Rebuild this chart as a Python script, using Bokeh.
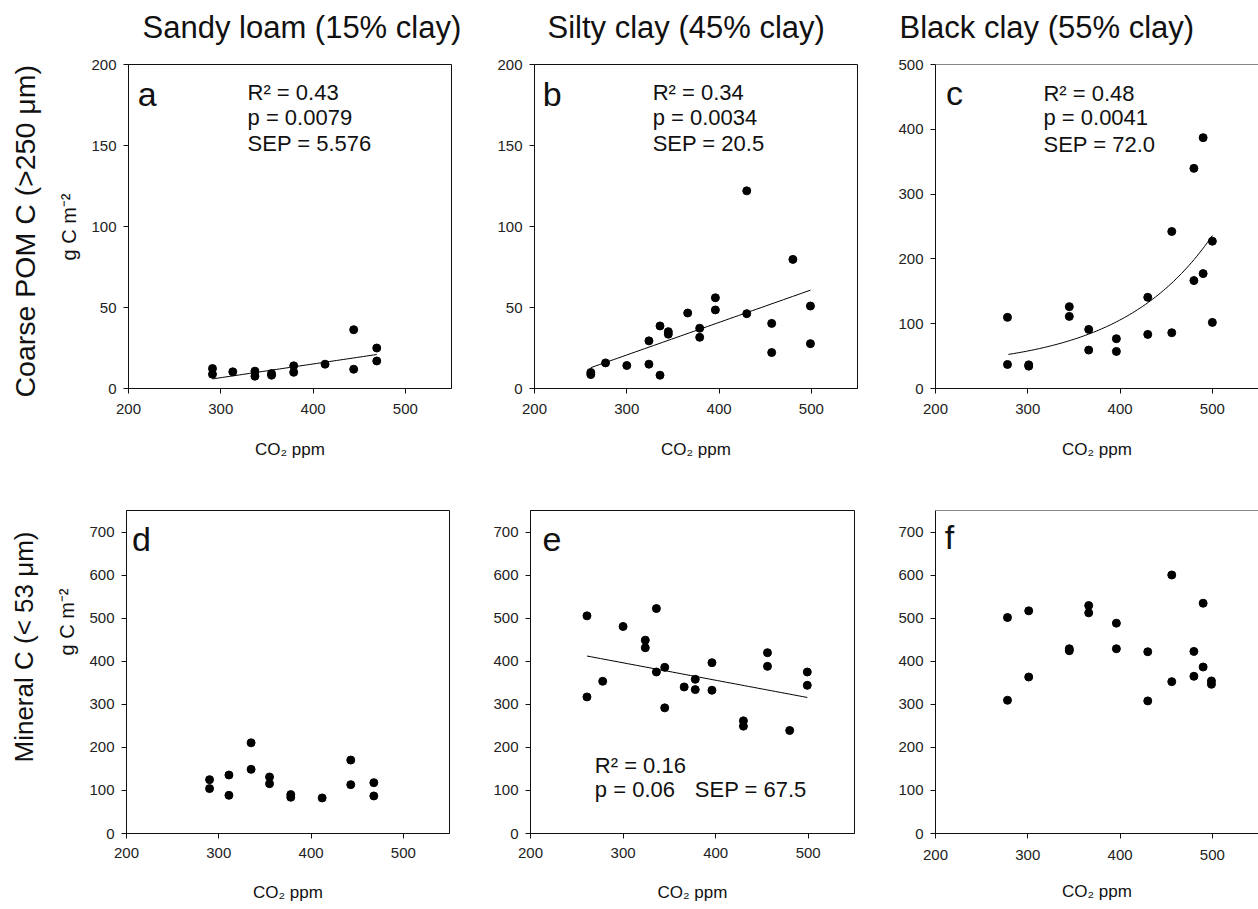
from bokeh.plotting import figure
from bokeh.models import Label, Title, Span, FixedTicker, Range1d
from bokeh.layouts import column, row
from bokeh.embed import file_html
from bokeh.resources import INLINE
import numpy as np

FONT = "Liberation Sans"
INK = "#111111"

# ---------------- data ----------------
col_titles = ["Sandy loam (15% clay)", "Silty clay (45% clay)", "Black clay (55% clay)"]
row_titles = ["Coarse POM C (>250 μm)", "Mineral C (< 53 μm)"]
unit_label = "g C m⁻²"
x_label = "CO₂ ppm"
x_ticks = [200, 300, 400, 500]

# panel a: Sandy loam, coarse POM C
a_co2 = [291, 291, 313, 337, 337, 355, 355, 379, 379, 413, 444, 444, 469, 469]
a_c = [12.3, 8.8, 10.3, 10.7, 7.6, 9.2, 8.2, 14.0, 10.0, 15.0, 36.3, 11.9, 25.0, 17.0]
a_fit = [-18.7, 0.0846]          # intercept, slope
a_stats = ["R² = 0.43", "p = 0.0079", "SEP = 5.576"]

# panel b: Silty clay, coarse POM C
b_co2 = [261, 261, 277, 300, 324, 324, 336, 336, 345, 345, 366, 379, 379,
         396, 396, 430, 430, 457, 457, 480, 499, 499]
b_c = [9.9, 8.6, 15.8, 14.2, 29.4, 15.0, 38.6, 8.2, 35.1, 33.5, 46.6, 37.2, 31.6,
       56.0, 48.5, 122.0, 46.2, 40.2, 22.2, 79.7, 50.9, 27.7]
b_fit = [-39.6, 0.201]
b_stats = ["R² = 0.34", "p = 0.0034", "SEP = 20.5"]

# panel c: Black clay, coarse POM C
c_co2 = [278, 278, 301, 301, 345, 345, 366, 366, 396, 396, 430, 430,
         456, 456, 480, 480, 490, 490, 500, 500]
c_c = [109.8, 37.1, 36.5, 34.5, 126.3, 111.3, 91.2, 59.3, 76.8, 57.2, 140.7, 83.5,
       242.3, 86.1, 339.7, 166.5, 387.1, 177.3, 227.3, 102.0]
c_fit = [30.0, 22.6, 0.0100, 279]   # y0, a, b, x0 :  y = y0 + a*exp(b*(x-x0))
c_stats = ["R² = 0.48", "p = 0.0041", "SEP = 72.0"]

# panel d: Sandy loam, mineral C
d_co2 = [290, 290, 311, 311, 335, 335, 355, 355, 378, 378, 412, 443, 443, 468, 468]
d_c = [125.0, 104.2, 135.8, 88.7, 210.6, 148.9, 131.2, 115.7, 90.3, 84.1, 82.6,
       170.5, 113.4, 118.0, 87.2]

# panel e: Silty clay, mineral C
e_co2 = [261, 261, 278, 300, 324, 324, 336, 336, 345, 345, 366, 378, 378,
         396, 396, 430, 430, 456, 456, 480, 499, 499]
e_c = [505.4, 317.1, 353.4, 480.7, 449.0, 431.3, 522.4, 375.0, 385.8, 291.7, 340.3,
       358.0, 334.1, 396.6, 332.6, 261.6, 249.2, 419.8, 388.1, 239.2, 375.0, 344.1]
e_fit = [517.7, -0.4045]
e_stats = ["R² = 0.16", "p = 0.06", "SEP = 67.5"]

# panel f: Black clay, mineral C
f_co2 = [278, 278, 301, 301, 345, 345, 366, 366, 396, 396, 430, 430,
         456, 456, 480, 480, 490, 490, 499, 499]
f_c = [501.5, 309.4, 517.0, 363.4, 429.0, 424.4, 529.3, 512.3, 488.4, 429.0, 422.0,
       307.9, 600.3, 352.6, 422.8, 365.0, 534.7, 386.6, 354.2, 346.5]


def panel(w, h, bl, br, bt, bb, xs, ys, ymax, yticks, letter, letter_pos,
          outline=True, tick_standoff=10, label_standoff=23):
    p = figure(width=w, height=h, x_range=(200, 550), y_range=(0, ymax),
               output_backend="svg", toolbar_location=None,
               min_border_left=bl, min_border_right=br,
               min_border_top=bt, min_border_bottom=bb)
    p.grid.grid_line_color = None
    p.background_fill_color = "white"
    p.border_fill_color = "white"
    p.outline_line_color = INK if outline else None
    p.outline_line_width = 1
    for ax, ticks in ((p.xaxis, x_ticks), (p.yaxis, yticks)):
        ax.ticker = FixedTicker(ticks=ticks, minor_ticks=[])
        ax.axis_line_color = INK
        ax.major_tick_line_color = INK
        ax.major_tick_in = 0
        ax.major_tick_out = 5
        ax.minor_tick_line_color = None
        ax.major_label_text_font = FONT
        ax.major_label_text_font_size = "15px"
        ax.major_label_text_color = "#222222"
        ax.major_label_standoff = 7
    p.xaxis.major_label_standoff = tick_standoff
    p.xaxis.axis_label = x_label
    p.xaxis.axis_label_text_font = FONT
    p.xaxis.axis_label_text_font_size = "17px"
    p.xaxis.axis_label_text_font_style = "normal"
    p.xaxis.axis_label_text_color = "#111111"
    p.xaxis.axis_label_standoff = label_standoff
    p.scatter(xs, ys, size=8, color="black")
    p.add_layout(Label(x=letter_pos[0], y=letter_pos[1], text=letter,
                       text_font=FONT, text_font_size="34px", text_color="#111111",
                       text_baseline="alphabetic"))
    if not outline:
        p.add_layout(Span(location=ymax, dimension="width", line_color=INK, line_width=1))
    return p


def stats(p, lines, x, ys, size="22px"):
    for t, y in zip(lines, ys):
        p.add_layout(Label(x=x, y=y, text=t, text_font=FONT, text_font_size=size,
                           text_color="#111111", text_baseline="alphabetic"))


def left_titles(p, unit_offset, row_text, row_offset, row_size):
    p.add_layout(Title(text=unit_label, align="left", offset=unit_offset, standoff=18,
                       text_font=FONT, text_font_size="20px", text_font_style="normal",
                       text_color="#111111"), "left")
    p.add_layout(Title(text=row_text, align="left", offset=row_offset, standoff=12,
                       text_font=FONT, text_font_size=row_size, text_font_style="normal",
                       text_color="#111111"), "left")


# ---------- header strip with the three column titles (pixel coordinates) ----------
HEAD_W, HEAD_H = 1258, 56
head = figure(width=HEAD_W, height=HEAD_H, x_range=Range1d(0, HEAD_W), y_range=Range1d(HEAD_H, 0),
              x_axis_type=None, y_axis_type=None, output_backend="svg", toolbar_location=None,
              min_border_left=0, min_border_right=0, min_border_top=0, min_border_bottom=0)
head.grid.grid_line_color = None
head.outline_line_color = None
for t, x0 in zip(col_titles, [142, 547, 899]):
    head.add_layout(Label(x=x0, y=27, text=t, text_font=FONT, text_font_size="31px",
                          text_baseline="alphabetic", text_color="#111111"))

# ---------- row 1 ----------
pa = panel(471, 409, 127, 20, 8, 77, a_co2, a_c, 200, [0, 50, 100, 150, 200], "a", (210, 181.6))
xa = np.linspace(min(a_co2), max(a_co2), 50)
pa.line(xa, a_fit[0] + a_fit[1] * xa, color="black", line_width=1)
stats(pa, a_stats, 329, [182.5, 167.2, 151.5])
left_titles(pa, 128, row_titles[0], -9, "28.5px")

pb = panel(399, 409, 63, 13, 8, 77, b_co2, b_c, 200, [0, 50, 100, 150, 200], "b", (209, 181.6))
xb = np.linspace(min(b_co2), max(b_co2), 50)
pb.line(xb, b_fit[0] + b_fit[1] * xb, color="black", line_width=1)
stats(pb, b_stats, 328, [182.5, 167.2, 151.5])

pc = panel(388, 409, 65, 0, 8, 77, c_co2, c_c, 500, [0, 100, 200, 300, 400, 500], "c", (211.5, 456), outline=False)
xc = np.linspace(c_fit[3], max(c_co2), 80)
pc.line(xc, c_fit[0] + c_fit[1] * np.exp(c_fit[2] * (xc - c_fit[3])), color="black", line_width=1)
stats(pc, c_stats, 317, [456, 418, 377])

# ---------- row 2 ----------
y7 = [0, 100, 200, 300, 400, 500, 600, 700]
pd_ = panel(470, 443, 126, 21, 44, 75, d_co2, d_c, 750, y7, "d", (206, 683.5),
            tick_standoff=9, label_standoff=22)
left_titles(pd_, 178, row_titles[1], 71, "26px")

pe = panel(400, 443, 60, 16, 44, 75, e_co2, e_c, 750, y7, "e", (213, 683.5),
           tick_standoff=9, label_standoff=22)
xe = np.linspace(min(e_co2), max(e_co2), 50)
pe.line(xe, e_fit[0] + e_fit[1] * xe, color="black", line_width=1)
stats(pe, e_stats[:1], 269.5, [157.6])
stats(pe, e_stats[1:2], 269.5, [101.1])
stats(pe, e_stats[2:], 377.5, [101.1])

pf = panel(388, 443, 65, 0, 45, 74, f_co2, f_c, 750, y7, "f", (210, 689), outline=False,
           tick_standoff=11, label_standoff=19)

layout = column(head, row(pa, pb, pc, spacing=0), row(pd_, pe, pf, spacing=0), spacing=0)

open("out.html", "w").write(file_html(layout, INLINE, title="CO2 soil carbon"))
